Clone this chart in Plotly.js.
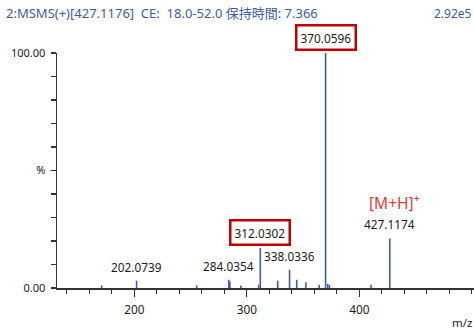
<!DOCTYPE html>
<html>
<head>
<meta charset="utf-8">
<script src="https://cdn.plot.ly/plotly-3.0.1.min.js"></script>
<style>html,body{margin:0;padding:0;background:#fff;}#chart{width:474px;height:331px;}</style>
</head>
<body>
<div id="chart"></div>
<script>
// Peak data (m/z and relative intensity %)
const mz = [171.0, 202.0739, 255.5, 284.0354, 285.0, 294.8, 310.6, 312.0302, 327.5, 338.0336, 344.4, 352.6, 364.4, 370.0596, 372.0, 373.5, 410.5, 427.1174];
const intensity = [1.1, 3.1, 1.1, 3.5, 2.8, 1.1, 1.4, 17.1, 3.1, 7.8, 3.5, 2.5, 1.4, 100, 1.7, 1.2, 1.4, 21.1];
// Labelled peaks
const labelMz = [202.0739, 284.0354, 312.0302, 338.0336, 370.0596, 427.1174];
const labelText = ["202.0739", "284.0354", "312.0302", "338.0336", "370.0596", "427.1174"];
const boxedMz = [312.0302, 370.0596];
// Axis ticks
const xTickVals = [200, 300, 400];
const yTickVals = [0, 50, 100];
const yTickText = ["0.00", "%", "100.00"];
const titleText = "2:MSMS(+)[427.1176]&nbsp;&nbsp;CE:&nbsp;&nbsp;18.0-52.0 保持時間: 7.366";
const scaleText = "2.92e5";

const FONT = "'Noto Sans', 'Noto Sans CJK JP', sans-serif";

// build stick segments
const sx = [], sy = [];
mz.forEach((m, i) => { sx.push(m, m, null); sy.push(0, intensity[i], null); });

const annotations = labelMz.map((m, i) => {
  const idx = mz.indexOf(m);
  const boxed = boxedMz.includes(m);
  const a = {
    x: m, y: intensity[idx], xref: 'x', yref: 'y',
    text: labelText[i], showarrow: false,
    xanchor: 'center', yanchor: 'bottom',
    font: {family: FONT, size: 11.8, color: '#1a1a1a'},
    yshift: boxed ? 2 : 4
  };
  if (boxed) {
    a.bordercolor = '#c00000';
    a.borderwidth = 2.5;
    a.borderpad = 3;
    a.bgcolor = '#ffffff';
  }
  return a;
});
annotations.push({
  x: 431.5, y: 36.5, xref: 'x', yref: 'y', showarrow: false,
  text: "[M+H]<sup>+</sup>", xanchor: 'center', yanchor: 'middle',
  font: {family: FONT, size: 15.5, color: '#e03c3c'}
});
annotations.push({
  x: 1, y: -0.148, xref: 'paper', yref: 'paper', showarrow: false,
  text: "m/z", xanchor: 'right', yanchor: 'middle',
  font: {family: FONT, size: 11.5, color: '#1a1a1a'}
});
annotations.push({
  x: 1, y: 1 + (52.5 - 13) / 235.5, xref: 'paper', yref: 'paper', showarrow: false,
  text: scaleText, xanchor: 'right', yanchor: 'middle',
  font: {family: FONT, size: 12, color: '#3f5c9c'}
});

const trace = {
  type: 'scatter', mode: 'lines', x: sx, y: sy,
  line: {color: '#4a5a9e', width: 1.6},
  hoverinfo: 'skip', cliponaxis: false
};

const layout = {
  width: 474, height: 331,
  margin: {l: 57, r: 0, t: 52.5, b: 43},
  paper_bgcolor: '#ffffff', plot_bgcolor: '#ffffff',
  showlegend: false,
  title: {
    text: titleText, x: 6 / 474, xanchor: 'left', xref: 'container',
    y: 1 - 13.5 / 331, yanchor: 'middle', yref: 'container',
    font: {family: FONT, size: 13, color: '#3f5c9c'}
  },
  xaxis: {
    range: [131.3, 502], showgrid: false, zeroline: false,
    showline: true, linecolor: '#333333', linewidth: 1.5,
    tickmode: 'array', tickvals: xTickVals,
    ticks: 'outside', ticklen: 7, tickwidth: 1.2, tickcolor: '#333333',
    ticklabelstandoff: 3,
    tickfont: {family: FONT, size: 11.8, color: '#1a1a1a'},
    minor: {dtick: 20, tick0: 0, ticks: 'outside', ticklen: 4, tickwidth: 1.2, tickcolor: '#333333', showgrid: false}
  },
  yaxis: {
    range: [0, 100], showgrid: false, zeroline: false,
    showline: true, linecolor: '#333333', linewidth: 1.5,
    tickmode: 'array', tickvals: yTickVals, ticktext: yTickText,
    ticks: 'outside', ticklen: 5, tickwidth: 1.2, tickcolor: '#333333',
    ticklabelstandoff: 3,
    tickfont: {family: FONT, size: 11, color: '#1a1a1a'},
    minor: {dtick: 10, tick0: 0, ticks: 'outside', ticklen: 5, tickwidth: 1.2, tickcolor: '#333333', showgrid: false}
  },
  annotations: annotations
};

Plotly.newPlot('chart', [trace], layout, {displayModeBar: false, staticPlot: true});
</script>
</body>
</html>
